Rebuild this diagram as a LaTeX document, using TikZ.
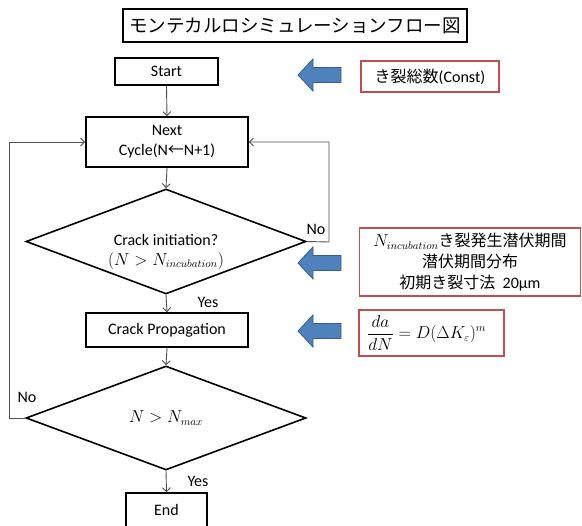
\documentclass[tikz,border=0pt]{standalone}
\usepackage{fontspec}
\setmainfont{Carlito}
\newfontfamily\jp{Noto Sans CJK JP}
\usetikzlibrary{arrows.meta,shapes.geometric}
\definecolor{redbox}{RGB}{192,80,77}
\definecolor{bluefill}{RGB}{79,129,189}
\definecolor{blueline}{RGB}{56,93,138}
\definecolor{conn}{RGB}{80,80,80}
\begin{document}
\begin{tikzpicture}[x=1pt,y=-1pt,
  every node/.style={font=\fontsize{16}{20}\selectfont, inner sep=0pt},
  blk/.style={draw=black, line width=1.6pt, rectangle, align=center},
  dia/.style={draw=black, line width=1.6pt, diamond, inner sep=0pt, minimum width=280pt, minimum height=105pt},
  redb/.style={draw=redbox, line width=1.4pt, rectangle, fill=white, align=center},
  conn/.style={draw=conn, line width=0.9pt, -{Straight Barb[length=4pt,width=8pt]}},
  blu/.style={fill=bluefill, draw=blueline, line width=0.8pt},
  lbl/.style={font=\fontsize{16}{20}\selectfont}]
\clip (0,0) rectangle (582,526);
\fill[white] (0,0) rectangle (582,526);

% title
\node[blk, line width=1.8pt, minimum width=344pt, minimum height=33pt, font=\jp\fontsize{18.5}{22}\selectfont] (title) at (295,25.5) {モンテカルロシミュレーションフロー図};

% flow nodes
\node[blk, minimum width=103pt, minimum height=27pt] (start) at (166.5,71.5) {Start};
\node[blk, minimum width=162pt, minimum height=50pt] (next) at (167,142) {Next\\Cycle(N{\jp ←}N+1)};
\node[dia] (d1) at (166,241.5) {};
\node[align=center, font=\fontsize{16}{20}\selectfont] (d1t) at (166,252) {Crack initiation?\\$(N > N_{incubation})$};
\node[blk, minimum width=162pt, minimum height=34pt] (prop) at (167,330) {Crack Propagation};
\node[dia, minimum height=104pt] (d2) at (166,418) {};
\node (d2t) at (166,418) {$N > N_{max}$};
\node[blk, minimum width=81pt, minimum height=37pt] (end) at (166.5,511.5) {};
\node (endt) at (166.5,510) {End};

% loop corners
\coordinate (rc1) at (329,242);
\coordinate (rc2) at (329,142);
\coordinate (lc1) at (9,418);
\coordinate (lc2) at (9,142);

% connectors
\draw[conn] (start.south) -- (next.north);
\draw[conn] (next.south) -- (d1.north);
\draw[conn] (d1.south) -- (prop.north);
\draw[conn] (prop.south) -- (d2.north);
\draw[conn] (d2.south) -- (end.north);
\draw[conn] (d1.east) -- (rc1) -- (rc2) -- (next.east);
\draw[conn] (d2.west) -- (lc1) -- (lc2) -- (next.west);

% labels
\node[lbl] (no1) at (316,229) {No};
\node[lbl] (yes1) at (208,302) {Yes};
\node[lbl] (no2) at (27,397) {No};
\node[lbl] (yes2) at (198,481) {Yes};

% blue arrows
\foreach \c in {75,263,331}{
  \draw[blu] (298,\c) -- (313,\c-16) -- (313,\c-7.5) -- (341,\c-7.5) -- (341,\c+7.5) -- (313,\c+7.5) -- (313,\c+16) -- cycle;
}

% red boxes
\node[redb, minimum width=138pt, minimum height=31pt] (r1) at (430,76.5) {{\jp き裂総数}(Const)};
\node[redb, minimum width=221pt, minimum height=68pt, font=\fontsize{16}{21}\selectfont] (r2) at (470,262) {$N_{incubation}${\jp き裂発生潜伏期間}\\{\jp 潜伏期間分布}\\{\jp 初期き裂寸法}\ \ 20μm};
\node[redb, minimum width=145pt, minimum height=46pt] (r3) at (431.5,333) {};
\node[anchor=west] (r3t) at (367,333) {$\displaystyle\frac{da}{dN}=D(\Delta K_{\varepsilon})^{m}$};
\end{tikzpicture}
\end{document}
